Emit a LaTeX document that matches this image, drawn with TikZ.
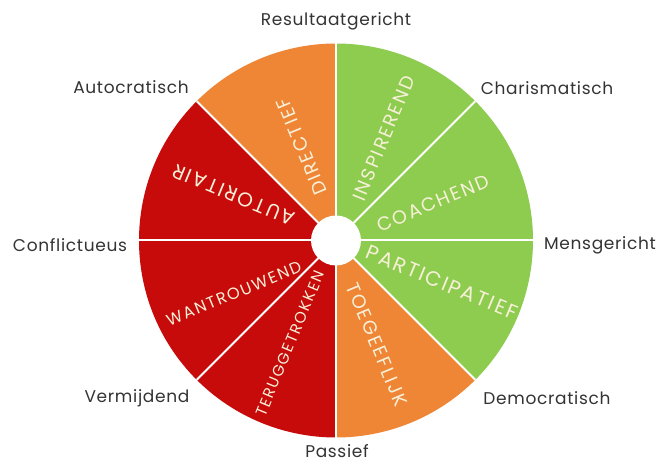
\documentclass[tikz,border=0pt]{standalone}
\usepackage{fontspec}
\setmainfont{Poppins}
\usepackage{xcolor}
\definecolor{wheelRed}{HTML}{C70B0B}
\definecolor{wheelOrange}{HTML}{EF8636}
\definecolor{wheelGreen}{HTML}{8DCC4F}
\definecolor{wheelText}{HTML}{F7F0D8}
\definecolor{labelGray}{HTML}{333333}
\newcommand{\segfont}[1]{\fontsize{#1}{#1}\selectfont\addfontfeatures{LetterSpace=10}}

\begin{document}
\begin{tikzpicture}[
        x=1pt, y=1pt,
        sep/.style={
            draw=white,
            line width=2pt
        },
        segtext/.style={
            text=wheelText,
            font=\segfont{19},
            inner sep=0pt
        },
        outer/.style={
            text=labelGray,
            font=\fontsize{17}{17}\selectfont\addfontfeatures{LetterSpace=4},
            inner sep=1pt
        }
    ]

    \useasboundingbox (-336,-222.5) rectangle (323,240.5);

    % segments
    \fill[wheelGreen] (0,0) -- (0:197) arc[start angle=0, end angle=90, radius=197] -- cycle;
    \fill[wheelOrange] (0,0) -- (90:197) arc[start angle=90, end angle=135, radius=197] -- cycle;
    \fill[wheelRed] (0,0) -- (135:197) arc[start angle=135, end angle=270, radius=197] -- cycle;
    \fill[wheelOrange] (0,0) -- (270:197) arc[start angle=270, end angle=315, radius=197] -- cycle;
    \fill[wheelGreen] (0,0) -- (315:197) arc[start angle=315, end angle=360, radius=197] -- cycle;

    % separators
    \draw[sep] (0,0) -- (0:197);
    \draw[sep] (0,0) -- (45:197);
    \draw[sep] (0,0) -- (90:197);
    \draw[sep] (0,0) -- (135:197);
    \draw[sep] (0,0) -- (180:197);
    \draw[sep] (0,0) -- (225:197);
    \draw[sep] (0,0) -- (270:197);
    \draw[sep] (0,0) -- (315:197);
    \fill[white] (0,0) circle[radius=25];

    % styles in the wheel
    \node[segtext, rotate=67.5] (inspirerend) at (65:113) {INSPIREREND};
    \node[segtext, rotate=22.5] (coachend) at (21:104) {COACHEND};
    \node[segtext, rotate=-22.5, font=\segfont{20.5}] (participatief) at (-21.5:114) {PARTICIPATIEF};
    \node[segtext, rotate=-67.5] (toegeeflijk) at (-68.5:112) {TOEGEEFLIJK};
    \node[segtext, rotate=67.5, font=\segfont{15.5}] (teruggetrokken) at (246:113) {TERUGGETROKKEN};
    \node[segtext, rotate=22.5, font=\segfont{16.3}] (wantrouwend) at (207.5:115) {WANTROUWEND};
    \node[segtext, rotate=157.5, font=\segfont{20}] (autoritair) at (156:112) {AUTORITAIR};
    \node[segtext, rotate=112.5] (directief) at (110:100) {DIRECTIEF};

    % axis labels
    \node[outer] (result) at (0,219.5) {Resultaatgericht};
    \node[outer] (charis) at (211,152.5) {Charismatisch};
    \node[outer] (mens) at (264,-5) {Mensgericht};
    \node[outer] (demo) at (211,-157.5) {Democratisch};
    \node[outer] (passief) at (1,-210.5) {Passief};
    \node[outer] (vermijd) at (-199,-157.5) {Vermijdend};
    \node[outer] (conflict) at (-266,-4.5) {Conflictueus};
    \node[outer] (autocr) at (-205,153.5) {Autocratisch};

\end{tikzpicture}
\end{document}
